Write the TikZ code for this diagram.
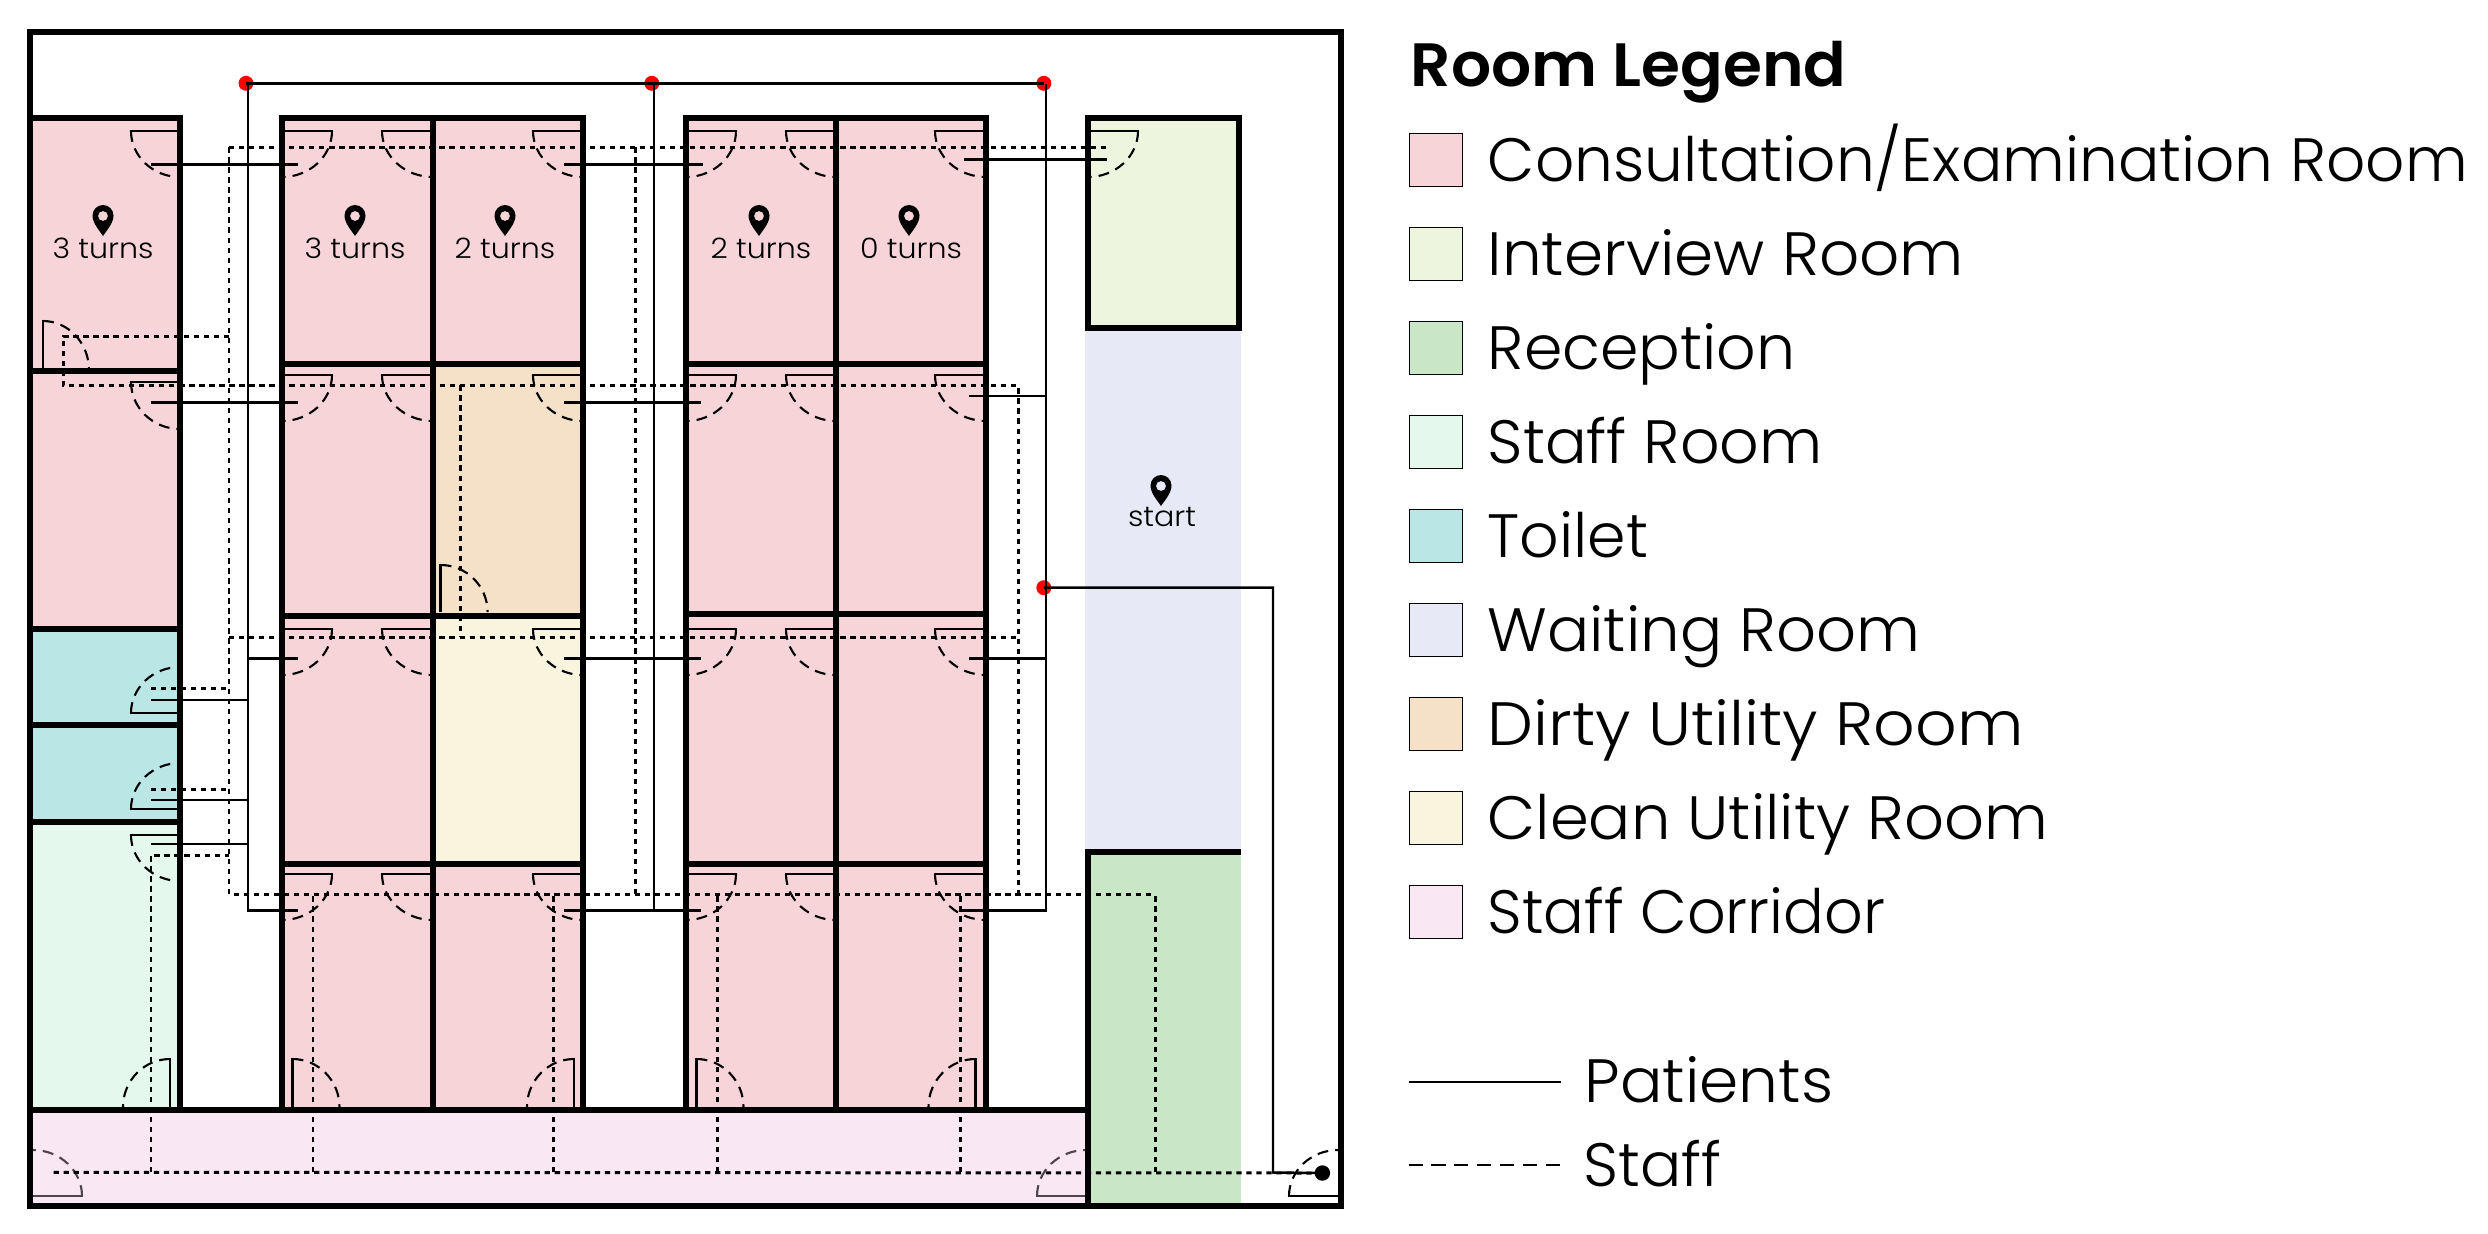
\documentclass[tikz,border=0pt]{standalone}
\usepackage{graphicx}
\usepackage{fontspec}
\setmainfont{Poppins Light}[BoldFont={Poppins SemiBold}]
\definecolor{cons}{HTML}{F7D4D7}
\definecolor{intv}{HTML}{EDF5DF}
\definecolor{recp}{HTML}{C9E7C6}
\definecolor{stfr}{HTML}{E4F8EE}
\definecolor{toil}{HTML}{BAE6E6}
\definecolor{wait}{HTML}{E7EAF6}
\definecolor{dirt}{HTML}{F4E1C8}
\definecolor{clea}{HTML}{F9F4DE}
\definecolor{corr}{HTML}{F9E7F3}
\definecolor{doortint}{HTML}{4F444C}
\tikzset{
  wall/.style={line width=1.7pt,line cap=butt,line join=miter},
  patient/.style={line width=0.7pt,line join=miter},
  staffline/.style={line width=0.85pt,dash pattern=on 1.5pt off 1.35pt},
  leaf/.style={line width=0.75pt,line join=miter},
  swing/.style={line width=0.6pt,dash pattern=on 3.1pt off 2pt},
  turnlabel/.style={anchor=base,font=\fontsize{8}{9}\selectfont,inner sep=0pt},
  legtext/.style={anchor=base west,font=\fontsize{17.4}{20}\selectfont,inner sep=0pt},
  swatch/.style={draw=black,line width=0.3pt},
  waypoint/.style={circle,fill=red,inner sep=0pt,minimum size=15\pxu},
}
\newdimen\pxu \pxu=0.2835pt
% hinge x,y ; leaf vector ; swing end vector
\newcommand\door[7][black]{%
  \draw[leaf,#1] (#2,#3) -- (#2+#4,#3+#5) -- (#2+#4+0.09*#6,#3+#5+0.09*#7);
  \draw[swing,#1] (#2+#4,#3+#5) .. controls (#2+#4+0.55*#6,#3+#5+0.55*#7) and (#2+#6+0.55*#4,#3+#7+0.55*#5) .. (#2+#6,#3+#7);
}
\newcommand\pin[3]{% x, top, name
  \node[inner sep=0pt,minimum size=0pt] (#3) at (#1,#2+15) {};
  \fill[black,even odd rule] (#1,#2+31) .. controls (#1-4,#2+25) and (#1-10.5,#2+18) .. (#1-10.5,#2+10.5)
     .. controls (#1-10.5,#2+4.5) and (#1-5.5,#2) .. (#1,#2)
     .. controls (#1+5.5,#2) and (#1+10.5,#2+4.5) .. (#1+10.5,#2+10.5)
     .. controls (#1+10.5,#2+18) and (#1+4,#2+25) .. (#1,#2+31) -- cycle
     (#1+5,#2+11) .. controls (#1+5,#2+13.8) and (#1+2.8,#2+16) .. (#1,#2+16)
     .. controls (#1-2.8,#2+16) and (#1-5,#2+13.8) .. (#1-5,#2+11)
     .. controls (#1-5,#2+8.2) and (#1-2.8,#2+6) .. (#1,#2+6)
     .. controls (#1+2.8,#2+6) and (#1+5,#2+8.2) .. (#1+5,#2+11) -- cycle;
}
\begin{document}
\begin{tikzpicture}[x=0.01cm,y=-0.01cm]
\useasboundingbox (0,0) rectangle (2488,1233);
% ---- room fills
\fill[cons] (30,118) rectangle (180,629);
\fill[toil] (30,629) rectangle (180,822);
\fill[stfr] (30,822) rectangle (180,1110);
\fill[cons] (282,118) rectangle (433,1110);
\fill[cons] (433,118) rectangle (583,364);
\fill[dirt] (433,364) rectangle (583,616);
\fill[clea] (433,616) rectangle (583,864);
\fill[cons] (433,864) rectangle (583,1110);
\fill[cons] (686,118) rectangle (986,1110);
\fill[intv] (1088,118) rectangle (1239,328);
\fill[wait] (1085,328) rectangle (1241,852);
\fill[recp] (1088,852) rectangle (1241,1206);
\fill[corr] (30,1110) rectangle (1088,1206);
% ---- doors
\foreach \yy in {131,375,629,874}{
  \door{282}{\yy}{50}{0}{0}{46}
  \door{433}{\yy}{-51}{0}{0}{46}
  \door{583}{\yy}{-50}{0}{0}{46}
  \door{686}{\yy}{50}{0}{0}{46}
  \door{836}{\yy}{-50}{0}{0}{46}
  \door{986}{\yy}{-51}{0}{0}{46}
}
\door{180}{131}{-49}{0}{0}{46}
\door{180}{382}{-49}{0}{0}{47}
\door{1088}{131}{50}{0}{0}{46}
\door{43}{370}{0}{-49}{46}{0}
\door{180}{713}{-49}{0}{0}{-46}
\door{180}{809}{-49}{0}{0}{-46}
\door{180}{835}{-49}{0}{0}{46}
\door{170}{1107}{0}{-48}{-47}{0}
\door{292.5}{1107}{0}{-48}{47}{0}
\door{574}{1107}{0}{-48}{-47}{0}
\door{696.5}{1107}{0}{-48}{47}{0}
\door{975.5}{1107}{0}{-48}{-47}{0}
\door{440.6}{612}{0}{-47}{47}{0}
\door[doortint]{33}{1196}{49}{0}{0}{-46}
\door[doortint]{1086}{1196}{-49}{0}{0}{-46}
\door{1338}{1196}{-49}{0}{0}{-46}
% ---- walls
\draw[wall] (30,32.3) rectangle (1340.7,1206);
\draw[wall] (30,118) -- (180,118) -- (180,1110);
\draw[wall] (30,370.7) -- (180,370.7) (30,629) -- (180,629) (30,725) -- (180,725) (30,821.7) -- (180,821.7);
\draw[wall] (282,1110) -- (282,118) -- (583,118) -- (583,1110);
\draw[wall] (432.6,118) -- (432.6,1110);
\draw[wall] (282,364) -- (583,364) (282,616) -- (583,616) (282,864) -- (583,864);
\draw[wall] (686,1110) -- (686,118) -- (986,118) -- (986,1110);
\draw[wall] (836,118) -- (836,1110);
\draw[wall] (686,364) -- (986,364) (686,614) -- (986,614) (686,864) -- (986,864);
\draw[wall] (1088,118) rectangle (1239,328);
\draw[wall] (1085,852) -- (1241,852);
\draw[wall] (1088,852) -- (1088,1206);
\draw[wall] (30,1110) -- (1088,1110);
% ---- way points
\node[waypoint] (r1) at (246,83.3) {};
\node[waypoint] (r2) at (651.8,83.3) {};
\node[waypoint] (r3) at (1043.8,83.3) {};
\node[waypoint] (r4) at (1043.8,587.7) {};
\node[circle,fill=black,inner sep=0pt,minimum size=15.5\pxu] (entry) at (1322.4,1173) {};
% ---- patients
\draw[patient] (r1.center) -- (r3.center);
\draw[patient] (248,84) -- (248,910.3) -- (298,910.3);
\draw[patient] (654,84) -- (654,910.3);
\draw[patient] (1046,84) -- (1046,910.3) -- (959,910.3);
\draw[patient] (r4.center) -- (1273,587.7) -- (1273,1172.5) -- (entry.center);
\draw[patient] (151,164.3) -- (298,164.3) (564,164.3) -- (703,164.3) (964,159.3) -- (1107,159.3);
\draw[patient] (151,402.3) -- (298,402.3) (564,402.3) -- (701,402.3) (969,396) -- (1046,396);
\draw[patient] (248,658.3) -- (298,658.3) (564,658.3) -- (701,658.3) (969,658.3) -- (1046,658.3);
\draw[patient] (151,700) -- (248,700) (151,800) -- (248,800) (151,844) -- (248,844);
\draw[patient] (564,910.3) -- (701,910.3);
% ---- staff
\draw[staffline] (53.6,1172.3) -- (entry.center);
\draw[staffline] (151,1172.3) -- (151,855) -- (229,855);
\foreach \xx in {313,553.6,717,960,1155}{\draw[staffline] (\xx,1172.3) -- (\xx,894.3);}
\draw[staffline] (229,147.3) -- (229,894.3) -- (1155,894.3);
\draw[staffline] (229,147.3) -- (1106,147.3);
\draw[staffline] (229,336) -- (63.4,336) -- (63.4,385.3) -- (1018,385.3) -- (1018,894.3);
\draw[staffline] (635,147.3) -- (635,894.3);
\draw[staffline] (460,385.3) -- (460,637.3);
\draw[staffline] (229,637.3) -- (1018,637.3);
\draw[staffline] (151,688.3) -- (229,688.3) (151,789.3) -- (229,789.3);
% ---- pins
\pin{103}{205}{p1} \node[turnlabel] (t1) at (103,258) {\scalebox{1.07}[1]{3 turns}};
\pin{355}{205}{p2} \node[turnlabel] (t2) at (355,258) {\scalebox{1.07}[1]{3 turns}};
\pin{505}{205}{p3} \node[turnlabel] (t3) at (505,258) {\scalebox{1.07}[1]{2 turns}};
\pin{759}{205}{p4} \node[turnlabel] (t4) at (761,258) {\scalebox{1.07}[1]{2 turns}};
\pin{909}{205}{p5} \node[turnlabel] (t5) at (911,258) {\scalebox{1.07}[1]{0 turns}};
\pin{1161}{475}{p6} \node[turnlabel] (t6) at (1162,526.7) {\scalebox{1.07}[1]{start}};
% ---- legend
\node[anchor=base west,inner sep=0pt,font=\fontsize{17.4}{20}\selectfont\bfseries] (title) at (1410,86.7) {\scalebox{1.03}[1]{Room Legend}};
\foreach \i/\c/\s/\t in {0/cons/1.003/Consultation\slash Examination Room,1/intv/1.027/Interview Room,2/recp/1.01/Reception,3/stfr/1.01/Staff Room,4/toil/1.01/Toilet,5/wait/1.022/Waiting Room,6/dirt/1.063/Dirty Utility Room,7/clea/1.02/Clean Utility Room,8/corr/0.988/Staff Corridor}{
  \draw[swatch,fill=\c] (1409.5,133.7+94*\i) rectangle (1462.6,186.7+94*\i);
  \node[legtext] (leg\i) at (1487,181+94*\i) {\scalebox{\s}[1]{\t}};
}
\coordinate (pa) at (1408.6,1082);
\coordinate (pb) at (1561,1082);
\coordinate (sa) at (1408.6,1165);
\coordinate (sb) at (1561,1165);
\draw[line width=0.7pt] (pa) -- (pb);
\draw[line width=0.55pt,dash pattern=on 4pt off 2.5pt] (sa) -- (sb);
\node[legtext] (lp) at (1584,1102) {\scalebox{1.03}[1]{Patients}};
\node[legtext] (ls) at (1583,1186.7) {Staff};
\end{tikzpicture}
\end{document}
